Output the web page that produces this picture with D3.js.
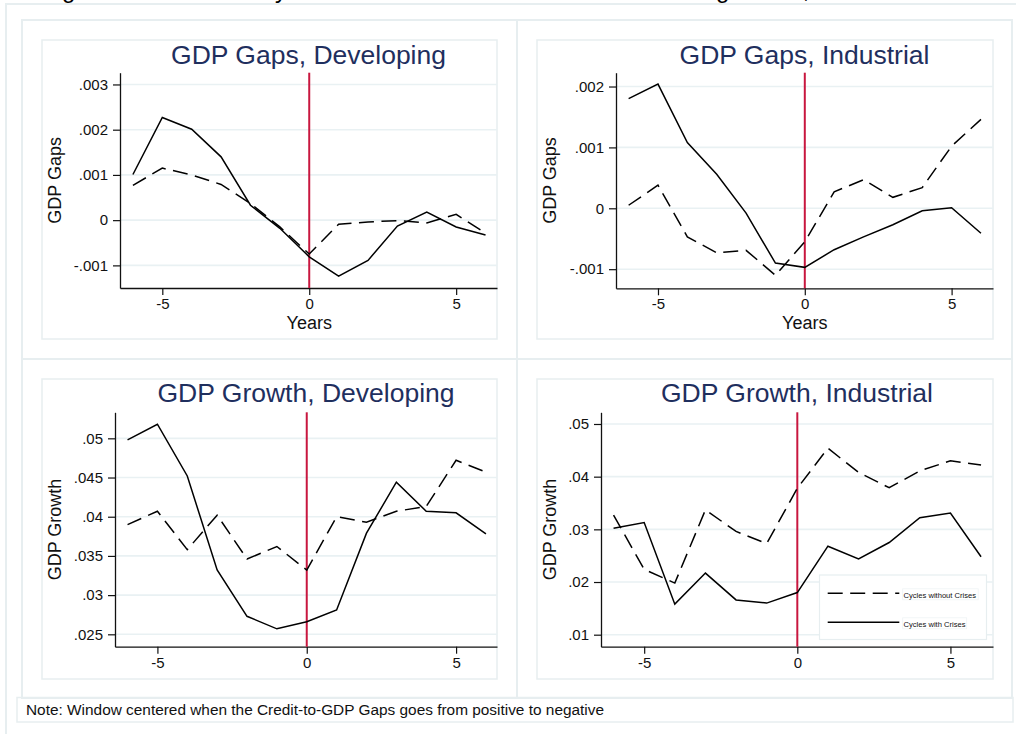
<!DOCTYPE html>
<html><head><meta charset="utf-8">
<script src="https://cdn.jsdelivr.net/npm/d3@7"></script>
<style>
body{margin:0;background:#fff}
svg{display:block}
text{font-family:"Liberation Sans",Arial,Helvetica,sans-serif}
</style>
</head><body>
<svg id="chart" width="1016" height="734"></svg>
<script>
// ---------------- DATA ----------------
const years = [-6,-5,-4,-3,-2,-1,0,1,2,3,4,5,6];
const xTicks = [-5,0,5];

const gapsDevWith    = [0.00101,0.00227,0.00201,0.00140,0.00033,-0.00018,-0.00081,-0.00124,-0.00089,-0.00013,0.00018,-0.00015,-0.00033];
const gapsDevWithout = [0.00077,0.00115,0.00100,0.00079,0.00037,-0.00015,-0.00075,-0.00009,-0.00004,-0.00001,-0.00006,0.00013,-0.00029];

const gapsIndWith    = [0.00180,0.00204,0.00108,0.00056,-0.00008,-0.00090,-0.00097,-0.00068,-0.00047,-0.00027,-0.00004,0.00001,-0.00041];
const gapsIndWithout = [0.00005,0.00038,-0.00047,-0.00073,-0.00069,-0.00110,-0.00055,0.00027,0.00047,0.00018,0.00034,0.00102,0.00146];

const growthDevWith    = [0.0498,0.0518,0.0452,0.0332,0.0273,0.0257,0.0266,0.0281,0.0379,0.0444,0.0407,0.0405,0.0378];
const growthDevWithout = [0.0390,0.0407,0.0358,0.0402,0.0346,0.0362,0.0332,0.0400,0.0393,0.0407,0.0413,0.0472,0.0457];

const growthIndWith    = [0.0302,0.0313,0.0158,0.0217,0.0166,0.0160,0.0180,0.0268,0.0244,0.0275,0.0322,0.0331,0.0248];
const growthIndWithout = [0.0327,0.0224,0.0198,0.0337,0.0296,0.0273,0.0378,0.0454,0.0408,0.0379,0.0411,0.0430,0.0422];

const gapsDevTicks   = [-0.001,0,0.001,0.002,0.003];
const gapsIndTicks   = [-0.001,0,0.001,0.002];
const growthDevTicks = [0.025,0.03,0.035,0.04,0.045,0.05];
const growthIndTicks = [0.01,0.02,0.03,0.04,0.05];

const titles  = ["GDP Gaps, Developing","GDP Gaps, Industrial","GDP Growth, Developing","GDP Growth, Industrial"];
const yTitles = ["GDP Gaps","GDP Gaps","GDP Growth","GDP Growth"];
const xTitles = ["Years","Years","",""];
const legendLabels = ["Cycles without Crises","Cycles with Crises"];
const mainTitle = "Figure 4: Real GDP Dynamics around the Credit-to-GDP Turning Points, Industrial vs. Developing";
const noteText = "Note: Window centered when the Credit-to-GDP Gaps goes from positive to negative";

// ---------------- LAYOUT ----------------
const frameCol = "#e7eef0";
const gridCol  = "#e9f1f3";
const titleCol = "#1f2f5e";
const redCol   = "#c8173f";

const panels = [
  {cell:[22,20,517,359], inner:[42,40,497,339], plot:[120,72.7,497,288],
   xd:[-6.44,6.39], yd:[-0.0015,0.00326], ticks:gapsDevTicks, withS:gapsDevWith, withoutS:gapsDevWithout, titleY:64},
  {cell:[517,20,1012,359], inner:[537,40,993,339], plot:[616,72.7,993,288.3],
   xd:[-6.43,6.41], yd:[-0.001314,0.002227], ticks:gapsIndTicks, withS:gapsIndWith, withoutS:gapsIndWithout, titleY:63.5},
  {cell:[22,359,517,698], inner:[42,379,497,679], plot:[115,412.3,497,646.7],
   xd:[-6.42,6.37], yd:[0.02342,0.05332], ticks:growthDevTicks, withS:growthDevWith, withoutS:growthDevWithout, titleY:401.7},
  {cell:[517,359,1012,698], inner:[537,379,993,679], plot:[601,412.3,993,646.7],
   xd:[-6.41,6.39], yd:[0.00772,0.05222], ticks:growthIndTicks, withS:growthIndWith, withoutS:growthIndWithout, titleY:401.7}
];

const svg = d3.select("#chart");

// main (clipped) title
svg.append("text").attr("x",42).attr("y",-2).attr("font-size",24).attr("fill","#000").text(mainTitle);

// outer frame
svg.append("rect").attr("x",6).attr("y",4).attr("width",1030).attr("height",760)
  .attr("fill","none").attr("stroke",frameCol).attr("stroke-width",2);

function fmt(d){
  if (Math.abs(d) < 1e-12) return "0";
  let s = String(+d.toFixed(5));
  return s.replace("0.", ".");
}

const dashPattern = "15,7.5";

panels.forEach((p,i)=>{
  const [cx0,cy0,cx1,cy1] = p.cell;
  const [ix0,iy0,ix1,iy1] = p.inner;
  const [px0,py0,px1,py1] = p.plot;
  svg.append("rect").attr("x",cx0).attr("y",cy0).attr("width",cx1-cx0).attr("height",cy1-cy0)
    .attr("fill","none").attr("stroke",frameCol).attr("stroke-width",2);
  svg.append("rect").attr("x",ix0).attr("y",iy0).attr("width",ix1-ix0).attr("height",iy1-iy0)
    .attr("fill","none").attr("stroke",frameCol).attr("stroke-width",1.5);

  const x = d3.scaleLinear().domain(p.xd).range([px0,px1]);
  const y = d3.scaleLinear().domain(p.yd).range([py1,py0]);
  const g = svg.append("g");

  // grid
  g.selectAll("line.grid").data(p.ticks).join("line").attr("class","grid")
    .attr("x1",px0).attr("x2",px1).attr("y1",d=>y(d)).attr("y2",d=>y(d))
    .attr("stroke",gridCol).attr("stroke-width",1.6);

  // axes
  const ya = g.append("g").attr("transform",`translate(${px0},0)`)
    .call(d3.axisLeft(y).tickValues(p.ticks).tickFormat(fmt).tickSize(7).tickPadding(5).tickSizeOuter(0));
  const xa = g.append("g").attr("transform",`translate(0,${py1})`)
    .call(d3.axisBottom(x).tickValues(xTicks).tickFormat(d=>String(d)).tickSize(7).tickPadding(3.5).tickSizeOuter(0));
  [ya,xa].forEach(a=>{
    a.select(".domain").attr("stroke","#111").attr("stroke-width",1.3);
    a.selectAll(".tick line").attr("stroke","#111").attr("stroke-width",1.2);
    a.selectAll("text").attr("font-size",15).attr("fill","#111")
      .attr("font-family",'"Liberation Sans",Arial,sans-serif');
  });

  // red vertical line at 0
  g.append("line").attr("x1",x(0)).attr("x2",x(0)).attr("y1",py0).attr("y2",py1)
    .attr("stroke",redCol).attr("stroke-width",2);

  const line = d3.line().x((d,k)=>x(years[k])).y(d=>y(d));
  g.append("path").datum(p.withoutS).attr("d",line).attr("fill","none")
    .attr("stroke","#000").attr("stroke-width",1.5).attr("stroke-dasharray",dashPattern);
  g.append("path").datum(p.withS).attr("d",line).attr("fill","none")
    .attr("stroke","#000").attr("stroke-width",1.5);

  // titles
  g.append("text").attr("x",(px0+px1)/2).attr("y",p.titleY).attr("text-anchor","middle")
    .attr("font-size",26.5).attr("fill",titleCol).text(titles[i]);
  g.append("text").attr("transform",`translate(${ix0+18.5},${(py0+py1)/2}) rotate(-90)`)
    .attr("text-anchor","middle").attr("font-size",18).attr("fill","#111").text(yTitles[i]);
  if (xTitles[i]) {
    g.append("text").attr("x",x(0)).attr("y",py1+41).attr("text-anchor","middle")
      .attr("font-size",18).attr("fill","#111").text(xTitles[i]);
  }

  // legend in the last panel
  if (i===3) {
    const lg = svg.append("g");
    lg.append("rect").attr("x",819.5).attr("y",575).attr("width",167).attr("height",64.5)
      .attr("fill","#fff").attr("stroke",frameCol).attr("stroke-width",1.2);
    const rows = [{y:593.3, dash:dashPattern, lab:legendLabels[0], w:75.5},
                  {y:622.3, dash:null, lab:legendLabels[1], w:64}];
    rows.forEach(r=>{
      const l = lg.append("line").attr("x1",827.7).attr("x2",899.3).attr("y1",r.y).attr("y2",r.y)
        .attr("stroke","#000").attr("stroke-width",1.5);
      if (r.dash) l.attr("stroke-dasharray",r.dash);
      lg.append("rect").attr("x",902.7).attr("y",r.y-4.5).attr("width",r.w).attr("height",11)
        .attr("fill","none").attr("stroke","#eef3f5").attr("stroke-width",0.8);
      lg.append("text").attr("x",903.5).attr("y",r.y+5).attr("font-size",7.6).attr("fill","#111").text(r.lab);
    });
  }
});

// note box
svg.append("rect").attr("x",17).attr("y",697.5).attr("width",996).attr("height",24.5)
  .attr("fill","none").attr("stroke",frameCol).attr("stroke-width",1.5);
svg.append("text").attr("x",26).attr("y",715).attr("font-size",15.4).attr("fill","#111").text(noteText);
</script>
</body></html>
